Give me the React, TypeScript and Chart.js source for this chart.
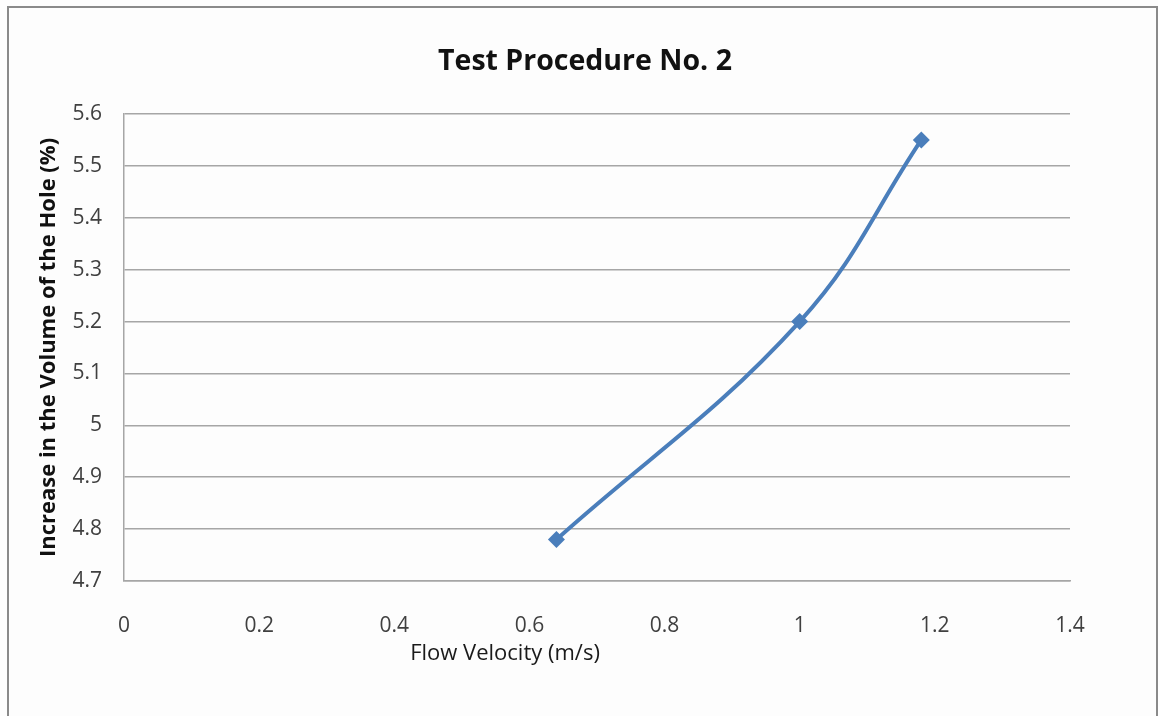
import React, { useEffect, useRef } from "react";
import { Chart, registerables } from "chart.js";

Chart.register(...registerables);

const chartTitle = "Test Procedure No. 2";
const xAxisTitle = "Flow Velocity (m/s)";
const yAxisTitle = "Increase in the Volume of the Hole (%)";
const flowVelocity = [0.64, 1.0, 1.18];
const volumeIncrease = [4.78, 5.2, 5.55];
const xMin = 0;
const xMax = 1.4;
const xStep = 0.2;
const yMin = 4.7;
const yMax = 5.6;
const yStep = 0.1;

const FONT = "'Open Sans', Lato, sans-serif";

const fmt = (v: number) => String(Number(Number(v).toFixed(1)));

const decorPlugin = {
  id: "decor",
  beforeDraw(chart: any) {
    const ctx = chart.ctx;
    ctx.save();
    ctx.fillStyle = "#fdfdfd";
    ctx.fillRect(0, 0, chart.width, chart.height);
    ctx.restore();
  },
  afterDraw(chart: any) {
    const ctx = chart.ctx;
    const area = chart.chartArea;
    ctx.save();
    // outer frame
    ctx.strokeStyle = "#8a8a8a";
    ctx.lineWidth = 2;
    ctx.beginPath();
    ctx.moveTo(8, chart.height);
    ctx.lineTo(8, 7);
    ctx.lineTo(chart.width - 1, 7);
    ctx.lineTo(chart.width - 1, chart.height);
    ctx.stroke();
    // chart title
    ctx.fillStyle = "#111111";
    ctx.textAlign = "center";
    ctx.textBaseline = "middle";
    ctx.font = `bold 28.5px ${FONT}`;
    ctx.fillText(chartTitle, 585, 62);
    // x axis title
    ctx.fillStyle = "#1a1a1a";
    ctx.font = `22px ${FONT}`;
    ctx.fillText(xAxisTitle, area.left + 381, 654);
    ctx.restore();
  },
};

export default function App() {
  const canvasRef = useRef<HTMLCanvasElement | null>(null);

  useEffect(() => {
    document.body.style.margin = "0";
    const canvas = canvasRef.current;
    if (!canvas) return;
    const points = flowVelocity.map((x, i) => ({ x, y: volumeIncrease[i] }));
    const chart = new Chart(canvas, {
      type: "line",
      data: {
        datasets: [
          {
            label: "Test Procedure No. 2",
            data: points,
            borderColor: "#4a7ebb",
            backgroundColor: "#4a7ebb",
            borderWidth: 4,
            tension: 0.4,
            pointStyle: "rectRot",
            pointRadius: 8.5,
            pointBorderWidth: 0,
            fill: false,
          },
        ],
      },
      options: {
        animation: false,
        responsive: false,
        layout: { padding: { top: 114, right: 88, left: 0, bottom: 0 } },
        plugins: {
          legend: { display: false },
          title: { display: false },
          tooltip: { enabled: false },
        },
        scales: {
          x: {
            type: "linear",
            min: xMin,
            max: xMax,
            grid: { display: false, drawTicks: false },
            border: { display: true, color: "#a6a6a6", width: 1.5 },
            ticks: {
              stepSize: xStep,
              padding: 32,
              color: "#404040",
              font: { family: FONT, size: 21 },
              callback: (v: any) => fmt(v),
              maxRotation: 0,
            },
            afterFit: (s: any) => {
              s.height = 135;
            },
          },
          y: {
            type: "linear",
            min: yMin,
            max: yMax,
            grid: { color: "#a6a6a6", lineWidth: 1.5, drawTicks: false },
            border: { display: true, color: "#a6a6a6", width: 1.5 },
            ticks: {
              stepSize: yStep,
              padding: 22,
              color: "#404040",
              font: { family: FONT, size: 21 },
              callback: (v: any) => fmt(v),
            },
            title: {
              display: true,
              text: yAxisTitle,
              color: "#111111",
              font: { family: FONT, size: 22, weight: "bold" },
              padding: { top: 36, bottom: 0 },
            },
            afterFit: (s: any) => {
              s.width = 124;
            },
          },
        },
      },
      plugins: [decorPlugin],
    });
    return () => chart.destroy();
  }, []);

  return (
    <div style={{ width: 1158, height: 716 }}>
      <canvas ref={canvasRef} width={1158} height={716} style={{ display: "block" }} />
    </div>
  );
}
